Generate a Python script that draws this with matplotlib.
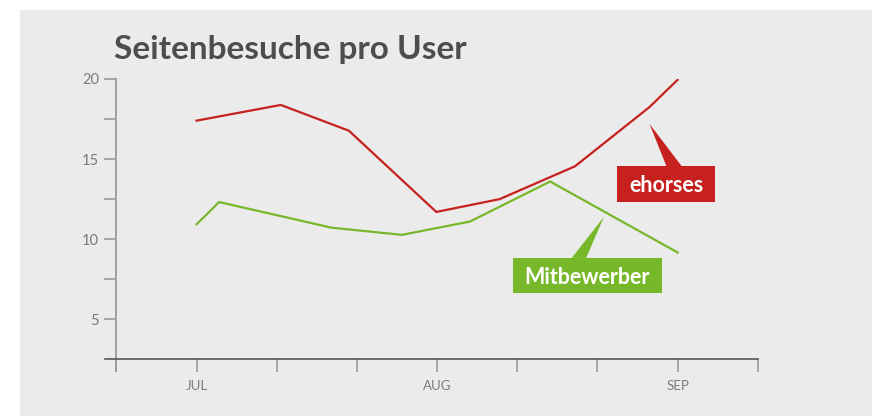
import numpy as np
import matplotlib.pyplot as plt
from matplotlib.patches import Rectangle, Polygon

# month position: 0 = JUL, 3 = AUG, 6 = SEP
ehorses_x = [0.0, 1.05, 1.9, 2.99, 3.78, 4.72, 5.65, 6.0]
ehorses_y = [17.4, 18.38, 16.77, 11.7, 12.5, 14.55, 18.25, 19.95]

mitbewerber_x = [0.0, 0.28, 1.68, 2.56, 3.41, 4.41, 6.0]
mitbewerber_y = [10.93, 12.32, 10.72, 10.27, 11.1, 13.6, 9.17]

x_ticks = [-1, 0, 1, 2, 3, 4, 5, 6, 7]
x_labels = ["", "JUL", "", "", "AUG", "", "", "SEP", ""]
y_ticks = [5, 7.5, 10, 12.5, 15, 17.5, 20]
y_labels = ["5", "", "10", "", "15", "", "20"]

red = "#C6211F"
green = "#77B82A"
grey_txt = "#7a7a7a"

plt.rcParams["font.family"] = ["Lato", "DejaVu Sans"]

fig = plt.figure(figsize=(8.72, 4.16), dpi=100)
fig.patch.set_facecolor("white")
fig.patches.append(Rectangle((20 / 872, 0), 852 / 872, 406 / 416,
                             transform=fig.transFigure, facecolor="#EBEBEB",
                             edgecolor="none", zorder=-10))

ax = fig.add_axes([0.1204, 0.1363, 0.7486, 0.6738])
ax.set_facecolor("none")

ax.plot(ehorses_x, ehorses_y, color=red, lw=1.6, solid_joinstyle="miter")
ax.plot(mitbewerber_x, mitbewerber_y, color=green, lw=1.6, solid_joinstyle="miter")

ax.set_xlim(-1.143, 7)
ax.set_ylim(2.5, 20)

for s in ["top", "right"]:
    ax.spines[s].set_visible(False)
ax.spines["left"].set_position(("data", -1))
ax.spines["left"].set_bounds(1.75, 20)
ax.spines["left"].set_color("#9a9a9a")
ax.spines["left"].set_linewidth(1.3)
ax.spines["bottom"].set_color("#555555")
ax.spines["bottom"].set_linewidth(1.2)

ax.set_xticks(x_ticks)
ax.set_xticklabels(x_labels)
ax.set_yticks(y_ticks)
ax.set_yticklabels(y_labels)
ax.tick_params(axis="x", length=9, width=1.2, color="#9a9a9a", pad=6,
               labelsize=9.5, labelcolor=grey_txt)
ax.tick_params(axis="y", length=8.5, width=1.2, color="#9a9a9a", pad=4,
               labelsize=10.5, labelcolor=grey_txt)

# callout labels
def callout(cx, cy, w, h, tip, base, text, color):
    ax.add_patch(Polygon([tip, (base[0], cy + h / 2), (base[1], cy + h / 2)],
                         closed=True, facecolor=color, edgecolor="none", zorder=4))
    ax.add_patch(Rectangle((cx - w / 2, cy - h / 2), w, h, facecolor=color,
                           edgecolor="none", zorder=5))
    ax.text(cx, cy - 0.1, text, color="white", fontsize=15.5, fontweight="bold",
            ha="center", va="center", zorder=6)

callout(5.86, 13.45, 1.22, 2.23, (5.65, 17.19), (5.86, 6.05), "ehorses", red)
callout(4.875, 7.72, 1.85, 2.22, (5.08, 11.39), (4.68, 4.86), "Mitbewerber", green)

fig.text(114 / 872, 1 - 59 / 416, "Seitenbesuche pro User", fontsize=24,
         fontweight="bold", color="#4d4d4d", ha="left", va="baseline")

fig.savefig("out.png", dpi=100)
